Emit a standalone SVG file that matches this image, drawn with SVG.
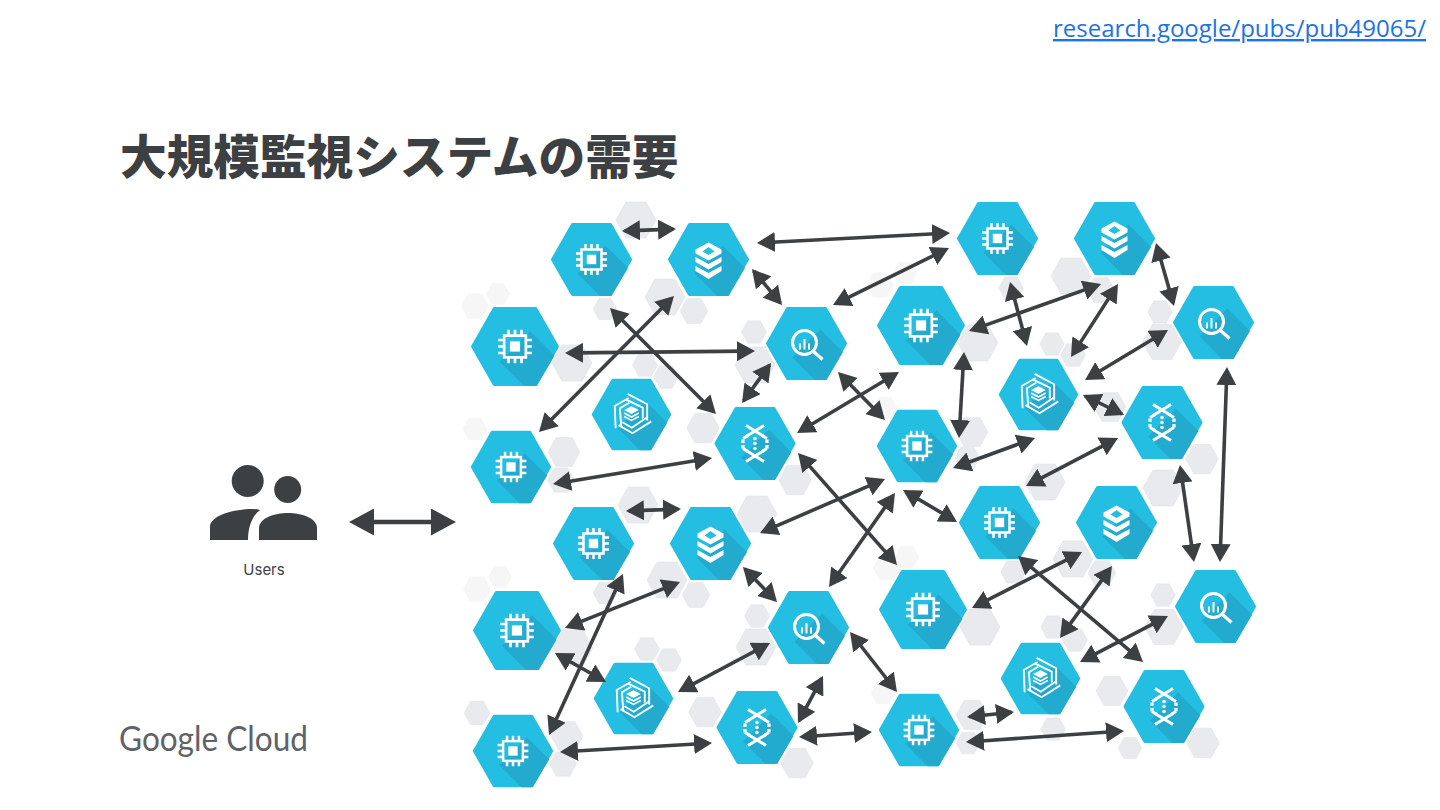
<svg xmlns="http://www.w3.org/2000/svg" width="1440" height="810" viewBox="0 0 1440 810">
<style>
.hex{fill:#23BEE1;stroke:#23BEE1;stroke-width:3;stroke-linejoin:round}
.shade{fill:#23ABCF}
.w{fill:#fff}
.wl{fill:none;stroke:#fff;stroke-width:2.500}
.g{fill:#E8EAED;stroke:#DFE1E5;stroke-width:.6;stroke-linejoin:round}
.f{fill:#F6F6F7;stroke:none}
.c{stroke:#3C4043;stroke-width:3.600;fill:none;stroke-dasharray:90 10;stroke-dashoffset:-5;marker-start:url(#ah);marker-end:url(#ah)}
.u{stroke:#3C4043;stroke-width:4.500;stroke-dasharray:90 10;stroke-dashoffset:-5;marker-start:url(#ahb);marker-end:url(#ahb)}
.dark{fill:#3C4043}
</style>
<defs>
<marker id="ah" viewBox="0 0 18 20" markerWidth="18" markerHeight="20" refX="18" refY="10" orient="auto-start-reverse" markerUnits="userSpaceOnUse"><path d="M0,0L18,10L0,20Z" fill="#3C4043"/></marker>
<marker id="ahb" viewBox="0 0 26 27" markerWidth="26" markerHeight="27" refX="26" refY="13.500" orient="auto-start-reverse" markerUnits="userSpaceOnUse"><path d="M1,0L26,13.500L1,27Z" fill="#3C4043"/></marker>
<polygon id="gh" points="-20,0 -10,-18 10,-18 20,0 10,18 -10,18"/>
<g id="base">
<polygon class="hex" points="-39,0 -19,-35 19,-35 39,0 19,35 -19,35"/>
<polygon class="shade" points="14,-14 36.500,8.500 20,36.500 8.500,36.500 -14,14"/>
</g>
<g id="chip">
<use href="#base"/>
<rect class="wl" x="-10" y="-10" width="20" height="20"/>
<rect class="w" x="-4.700" y="-4.700" width="9.400" height="9.400"/>
<path class="wl" d="M-6,-10V-15.500M0,-10V-15.500M6,-10V-15.500M-6,10V15.500M0,10V15.500M6,10V15.500M-10,-6H-15.500M-10,0H-15.500M-10,6H-15.500M10,-6H15.500M10,0H15.500M10,6H15.500"/>
</g>
<g id="stack">
<use href="#base"/>
<path class="w" fill-rule="evenodd" d="M0,-17L13,-10V-6L0,1L-13,-6V-10ZM0,-12.500L-6,-8L0,-4.500L6,-8Z"/>
<path class="w" d="M-13,-2.500L0,4.500L13,-2.500V2.500L0,10L-13,2.500Z"/>
<path class="w" d="M-13,6.500L0,13.500L13,6.500V11.500L0,19.500L-13,11.500Z"/>
</g>
<g id="query">
<use href="#base"/>
<circle cx="-2" cy="-1" r="12" fill="none" stroke="#fff" stroke-width="3"/>
<path d="M7,8L16,16" stroke="#fff" stroke-width="3.200" fill="none"/>
<path class="wl" style="stroke-width:2" d="M-6.500,0V6M-2,-4.500V6M2.500,0V6"/>
</g>
<g id="arm"><path class="wl" style="stroke-width:1.900" d="M-4,-21L16,-10.500V6M-6,-15.500L11.500,-7V4"/></g>
<g id="swirl">
<use href="#base"/>
<use href="#arm"/>
<use href="#arm" transform="rotate(120)"/>
<use href="#arm" transform="rotate(240)"/>
<path class="w" d="M0,-8.500L7.500,-4.500L0,-.5L-7.500,-4.500Z"/>
<path class="wl" style="stroke-width:1.700" d="M-7.500,-1.500L0,2.500L7.500,-1.500M-7.500,2L0,6L7.500,2"/>
</g>
<g id="flow">
<use href="#base"/>
<path class="wl" style="stroke-width:3" d="M-9,-18L9,-7M9,-18L-9,-7M-9,18L9,7M9,18L-9,7"/>
<path class="wl" style="stroke-width:3" d="M-7,-8L-12,-5M7,-8L12,-5M-7,8L-12,5M7,8L12,5"/>
<path class="wl" style="stroke-width:3.200;stroke-dasharray:3.500 2" d="M-12,-4V5M12,-4V5"/>
<circle class="w" cx="0" cy="-5" r="1.800"/><circle class="w" cx="0" cy="0" r="1.800"/><circle class="w" cx="0" cy="5" r="1.800"/>
</g>
</defs>
<rect width="1440" height="810" fill="#fff"/>

<g id="background-hexes">
<use href="#gh" class="g" transform="translate(636,220)"/>
<use href="#gh" class="g" transform="translate(605,309) scale(.6)"/>
<use href="#gh" class="g" transform="translate(665,297)"/>
<use href="#gh" class="g" transform="translate(694,311) scale(.7)"/>
<use href="#gh" class="f" transform="translate(475,306) scale(.7)"/>
<use href="#gh" class="f" transform="translate(498,294) scale(.6)"/>
<use href="#gh" class="g" transform="translate(572,363)"/>
<use href="#gh" class="g" transform="translate(645,365) scale(.63)"/>
<use href="#gh" class="g" transform="translate(666,377) scale(.63)"/>
<use href="#gh" class="g" transform="translate(754,332) scale(.63)"/>
<use href="#gh" class="g" transform="translate(755,365)"/>
<use href="#gh" class="f" transform="translate(475,429) scale(.63)"/>
<use href="#gh" class="g" transform="translate(564,452) scale(.8)"/>
<use href="#gh" class="g" transform="translate(561,480) scale(.68)"/>
<use href="#gh" class="g" transform="translate(703,428) scale(.82)"/>
<use href="#gh" class="g" transform="translate(795,480) scale(.82)"/>
<use href="#gh" class="g" transform="translate(1071,276)"/>
<use href="#gh" class="g" transform="translate(1101,290) scale(.7)"/>
<use href="#gh" class="g" transform="translate(1011,288) scale(.62)"/>
<use href="#gh" class="g" transform="translate(978,343)"/>
<use href="#gh" class="g" transform="translate(1052,344) scale(.62)"/>
<use href="#gh" class="g" transform="translate(1073,355) scale(.63)"/>
<use href="#gh" class="g" transform="translate(1160,312) scale(.62)"/>
<use href="#gh" class="g" transform="translate(1162,342) scale(.97)"/>
<use href="#gh" class="g" transform="translate(1110,407) scale(.8)"/>
<use href="#gh" class="g" transform="translate(972,432) scale(.8)"/>
<use href="#gh" class="g" transform="translate(967,458) scale(.63)"/>
<use href="#gh" class="g" transform="translate(1202,459) scale(.82)"/>
<use href="#gh" class="g" transform="translate(1045,482)"/>
<use href="#gh" class="g" transform="translate(1163,488)"/>
<use href="#gh" class="f" transform="translate(880,285) scale(.7)"/>
<use href="#gh" class="f" transform="translate(905,273) scale(.62)"/>
<use href="#gh" class="f" transform="translate(885,408) scale(.62)"/>
<use href="#gh" class="g" transform="translate(638,505)"/>
<use href="#gh" class="g" transform="translate(757,514)"/>
<use href="#gh" class="g" transform="translate(667,580)"/>
<use href="#gh" class="g" transform="translate(696,595) scale(.7)"/>
<use href="#gh" class="g" transform="translate(605,593) scale(.6)"/>
<use href="#gh" class="f" transform="translate(477,589) scale(.7)"/>
<use href="#gh" class="f" transform="translate(500,577) scale(.6)"/>
<use href="#gh" class="g" transform="translate(573,648)"/>
<use href="#gh" class="g" transform="translate(647,649) scale(.63)"/>
<use href="#gh" class="g" transform="translate(669,660) scale(.63)"/>
<use href="#gh" class="g" transform="translate(757,616) scale(.63)"/>
<use href="#gh" class="g" transform="translate(756,647)"/>
<use href="#gh" class="g" transform="translate(477,713) scale(.65)"/>
<use href="#gh" class="g" transform="translate(567,736) scale(.8)"/>
<use href="#gh" class="g" transform="translate(563,764) scale(.68)"/>
<use href="#gh" class="g" transform="translate(705,712) scale(.82)"/>
<use href="#gh" class="g" transform="translate(797,763) scale(.82)"/>
<use href="#gh" class="g" transform="translate(1073,559)"/>
<use href="#gh" class="g" transform="translate(1102,573) scale(.7)"/>
<use href="#gh" class="g" transform="translate(1013,572) scale(.62)"/>
<use href="#gh" class="g" transform="translate(980,627)"/>
<use href="#gh" class="g" transform="translate(1053,627) scale(.62)"/>
<use href="#gh" class="g" transform="translate(1075,640) scale(.63)"/>
<use href="#gh" class="g" transform="translate(1163,595) scale(.62)"/>
<use href="#gh" class="g" transform="translate(1164,627) scale(.97)"/>
<use href="#gh" class="g" transform="translate(1112,691) scale(.8)"/>
<use href="#gh" class="g" transform="translate(1053,729) scale(.62)"/>
<use href="#gh" class="g" transform="translate(1130,748) scale(.6)"/>
<use href="#gh" class="g" transform="translate(1203,743) scale(.82)"/>
<use href="#gh" class="g" transform="translate(972,715) scale(.8)"/>
<use href="#gh" class="g" transform="translate(968,743) scale(.6)"/>
<use href="#gh" class="f" transform="translate(907,557) scale(.62)"/>
<use href="#gh" class="f" transform="translate(887,568) scale(.7)"/>
<use href="#gh" class="f" transform="translate(883,693) scale(.62)"/>
</g>

<g id="n01" transform="translate(591.500,259.500)"><use href="#chip"/></g>
<g id="n02" transform="translate(708.500,259.500)"><use href="#stack"/></g>
<g id="n03" transform="translate(515,346.500) scale(1.085)"><use href="#chip"/></g>
<g id="n04" transform="translate(806.500,343.500)"><use href="#query"/></g>
<g id="n05" transform="translate(631.500,414.500) scale(.98)"><use href="#swirl"/></g>
<g id="n06" transform="translate(755,443.500)"><use href="#flow"/></g>
<g id="n07" transform="translate(511,467) scale(.99)"><use href="#chip"/></g>
<g id="n08" transform="translate(997.500,238.500)"><use href="#chip"/></g>
<g id="n09" transform="translate(1114.500,238.500)"><use href="#stack"/></g>
<g id="n10" transform="translate(921,325.500) scale(1.085)"><use href="#chip"/></g>
<g id="n11" transform="translate(1213.500,322.500)"><use href="#query"/></g>
<g id="n12" transform="translate(1038.500,394.500) scale(.98)"><use href="#swirl"/></g>
<g id="n13" transform="translate(1162,422.500)"><use href="#flow"/></g>
<g id="n14" transform="translate(917,446) scale(.99)"><use href="#chip"/></g>
<g id="n15" transform="translate(593.500,543.500)"><use href="#chip"/></g>
<g id="n16" transform="translate(710.500,543.500)"><use href="#stack"/></g>
<g id="n17" transform="translate(517,630.500) scale(1.085)"><use href="#chip"/></g>
<g id="n18" transform="translate(808.500,627.500)"><use href="#query"/></g>
<g id="n19" transform="translate(633.500,698.500) scale(.98)"><use href="#swirl"/></g>
<g id="n20" transform="translate(757,727.500)"><use href="#flow"/></g>
<g id="n21" transform="translate(513,751) scale(.99)"><use href="#chip"/></g>
<g id="n22" transform="translate(999.500,522.500)"><use href="#chip"/></g>
<g id="n23" transform="translate(1116.500,522.500)"><use href="#stack"/></g>
<g id="n24" transform="translate(923,609.500) scale(1.085)"><use href="#chip"/></g>
<g id="n25" transform="translate(1215.500,606.500)"><use href="#query"/></g>
<g id="n26" transform="translate(1040.500,678.500) scale(.98)"><use href="#swirl"/></g>
<g id="n27" transform="translate(1164,706.500)"><use href="#flow"/></g>
<g id="n28" transform="translate(919,730) scale(.99)"><use href="#chip"/></g>

<g id="users">
<circle class="dark" cx="247.700" cy="481" r="16"/>
<circle class="dark" cx="287.700" cy="489.500" r="13.500"/>
<path class="dark" d="M210,540V527C210,515 235,509 252,509Q257,509 260,510C252,516 248,528 248,540Z"/>
<path class="dark" d="M259,540V528C259,518 275,513 288,513C301,513 317,518 317,528V540Z"/>
<text x="264" y="574.500" text-anchor="middle" font-family="Inter, sans-serif" font-size="15" fill="#3C4043">Users</text>
</g>

<g id="connectors">
<line class="u" pathLength="100" x1="349" y1="522" x2="456" y2="522"/>
<line class="c" pathLength="100" x1="622" y1="231" x2="676" y2="229"/>
<line class="c" pathLength="100" x1="757" y1="243" x2="950" y2="233"/>
<line class="c" pathLength="100" x1="752" y1="269" x2="782" y2="305"/>
<line class="c" pathLength="100" x1="833" y1="305" x2="949" y2="248"/>
<line class="c" pathLength="100" x1="565" y1="353" x2="755" y2="351"/>
<line class="c" pathLength="100" x1="674" y1="296" x2="539" y2="432"/>
<line class="c" pathLength="100" x1="610" y1="308" x2="716" y2="414"/>
<line class="c" pathLength="100" x1="771" y1="363" x2="742" y2="403"/>
<line class="c" pathLength="100" x1="838" y1="372" x2="885" y2="420"/>
<line class="c" pathLength="100" x1="797" y1="433" x2="899" y2="372"/>
<line class="c" pathLength="100" x1="553" y1="484" x2="712" y2="458"/>
<line class="c" pathLength="100" x1="798" y1="453" x2="897" y2="565"/>
<line class="c" pathLength="100" x1="760" y1="533" x2="885" y2="479"/>
<line class="c" pathLength="100" x1="829" y1="587" x2="895" y2="493"/>
<line class="c" pathLength="100" x1="903" y1="490" x2="957" y2="522"/>
<line class="c" pathLength="100" x1="969" y1="331" x2="1101" y2="284"/>
<line class="c" pathLength="100" x1="1010" y1="282" x2="1027" y2="346"/>
<line class="c" pathLength="100" x1="1118" y1="284" x2="1071" y2="357"/>
<line class="c" pathLength="100" x1="1156" y1="243" x2="1174" y2="306"/>
<line class="c" pathLength="100" x1="1168" y1="330" x2="1085" y2="380"/>
<line class="c" pathLength="100" x1="964" y1="352" x2="959" y2="438"/>
<line class="c" pathLength="100" x1="1083" y1="395" x2="1124" y2="415"/>
<line class="c" pathLength="100" x1="953" y1="468" x2="1035" y2="438"/>
<line class="c" pathLength="100" x1="1118" y1="438" x2="1026" y2="486"/>
<line class="c" pathLength="100" x1="1180" y1="465" x2="1194" y2="562"/>
<line class="c" pathLength="100" x1="1227" y1="367" x2="1220" y2="562"/>
<line class="c" pathLength="100" x1="626" y1="511" x2="681" y2="509"/>
<line class="c" pathLength="100" x1="743" y1="567" x2="777" y2="602"/>
<line class="c" pathLength="100" x1="680" y1="582" x2="565" y2="628"/>
<line class="c" pathLength="100" x1="623" y1="574" x2="549" y2="735"/>
<line class="c" pathLength="100" x1="555" y1="653" x2="606" y2="682"/>
<line class="c" pathLength="100" x1="770" y1="643" x2="678" y2="692"/>
<line class="c" pathLength="100" x1="823" y1="676" x2="798" y2="723"/>
<line class="c" pathLength="100" x1="560" y1="752" x2="712" y2="743"/>
<line class="c" pathLength="100" x1="799" y1="737" x2="872" y2="732"/>
<line class="c" pathLength="100" x1="850" y1="632" x2="897" y2="692"/>
<line class="c" pathLength="100" x1="972" y1="608" x2="1082" y2="552"/>
<line class="c" pathLength="100" x1="1112" y1="566" x2="1060" y2="638"/>
<line class="c" pathLength="100" x1="1018" y1="556" x2="1143" y2="662"/>
<line class="c" pathLength="100" x1="1168" y1="616" x2="1080" y2="662"/>
<line class="c" pathLength="100" x1="967" y1="717" x2="1014" y2="712"/>
<line class="c" pathLength="100" x1="966" y1="742" x2="1124" y2="731"/>
</g>

<text id="title" x="120" y="174" font-family="'Noto Sans CJK JP', sans-serif" font-weight="900" font-size="46.670" fill="#3C4043">大規模監視システムの需要</text>
<text id="link" x="1426" y="37" text-anchor="end" font-family="'Open Sans', sans-serif" font-size="24" fill="#1A73E8" text-decoration="underline">research.google/pubs/pub49065/</text>
<text id="logo" x="119" y="751" font-family="Lato, sans-serif" font-size="34" fill="#5F6368" textLength="189" lengthAdjust="spacingAndGlyphs">Google Cloud</text>
</svg>
